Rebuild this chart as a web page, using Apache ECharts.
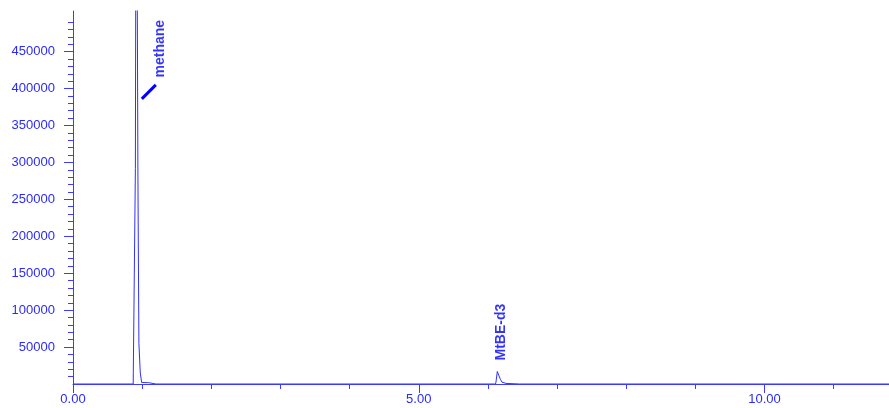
<!DOCTYPE html>
<html>
<head>
<meta charset="utf-8">
<script src="https://cdn.jsdelivr.net/npm/echarts@6/dist/echarts.min.js"></script>
<style>
html,body{margin:0;padding:0;background:#fff;}
#chart{width:889px;height:408px;}
</style>
</head>
<body>
<div id="chart"></div>
<script>
// Chromatogram trace (minutes, detector counts)
const retentionTimes = [0, 0.871, 0.872, 0.898, 0.900, 0.902, 0.915, 0.937, 0.939, 0.950, 0.953, 0.968, 0.973, 0.993, 1.092, 1.099, 1.200,
  6.110, 6.117, 6.136, 6.143, 6.160, 6.182, 6.204, 6.225, 6.262, 6.269,
  6.457, 6.468, 6.478, 11.8];
const signal = [0, 0, 16000, 17000, 16000, 292000, 900000, 900000, 280000, 278000, 55000, 52700, 14900, 2000, 1800, 0, 0,
  0, 3000, 17000, 16500, 11000, 6000, 2500, 1200, 800, 0,
  0, 1200, 0, 0];

// Peak annotations
const peakNames = ['methane', 'MtBE-d3'];
const peakLabelTimes = [1.258, 6.192];
const peakLabelHeights = [454000, 70300];

// Leader line for methane label
const leaderTimes = [0.995, 1.198];
const leaderHeights = [386000, 405000];

// Axis ticks
const xTickLabels = [0, 5, 10];
const xMinorTicks = [0, 1, 2, 3, 4, 5, 6, 7, 8, 9, 10, 11];
const yTickLabels = [50000, 100000, 150000, 200000, 250000, 300000, 350000, 400000, 450000];
const yMinorTicks = [];
for (let v = 10000; v <= 490000; v += 10000) yMinorTicks.push(v);

const X_MAX = 11.8, Y_MAX = 505000;
const axisColor = '#3c3cff';
const labelColor = '#2a2aff';
const font = 'Arial, "Liberation Sans", sans-serif';

const chart = echarts.init(document.getElementById('chart'), null, {renderer: 'canvas'});
chart.setOption({
  animation: false,
  backgroundColor: '#ffffff',
  grid: {left: 73, right: 0, top: 11, bottom: 24, containLabel: false},
  xAxis: [
    {
      type: 'value', position: 'bottom', min: 0, max: X_MAX,
      axisLine: {show: true, onZero: false, lineStyle: {color: axisColor, width: 1}},
      axisTick: {show: true, length: 9, customValues: xTickLabels, lineStyle: {color: axisColor}},
      axisLabel: {show: true, customValues: xTickLabels, margin: 9, color: labelColor, fontFamily: font, fontSize: 13,
        formatter: v => Number(v).toFixed(2)},
      splitLine: {show: false}
    },
    {
      type: 'value', position: 'bottom', min: 0, max: X_MAX,
      axisLine: {show: false, onZero: false},
      axisTick: {show: true, length: 5, customValues: xMinorTicks, lineStyle: {color: axisColor}},
      axisLabel: {show: false},
      splitLine: {show: false}
    }
  ],
  yAxis: [
    {
      type: 'value', position: 'left', min: 0, max: Y_MAX,
      axisLine: {show: true, onZero: false, lineStyle: {color: axisColor, width: 1}},
      axisTick: {show: true, length: 9, customValues: yTickLabels, lineStyle: {color: axisColor}},
      axisLabel: {show: true, customValues: yTickLabels, margin: 18, color: labelColor, fontFamily: font, fontSize: 13,
        formatter: v => String(v)},
      splitLine: {show: false}
    },
    {
      type: 'value', position: 'left', min: 0, max: Y_MAX,
      axisLine: {show: false, onZero: false},
      axisTick: {show: true, length: 5, customValues: yMinorTicks, lineStyle: {color: axisColor}},
      axisLabel: {show: false},
      splitLine: {show: false}
    }
  ],
  series: [
    {
      type: 'line', xAxisIndex: 0, yAxisIndex: 0,
      data: retentionTimes.map((t, i) => [t, signal[i]]),
      showSymbol: false, symbol: 'none', clip: true, sampling: null,
      lineStyle: {color: '#3030ff', width: 1},
      silent: true
    },
    {
      type: 'line', xAxisIndex: 0, yAxisIndex: 0,
      data: leaderTimes.map((t, i) => [t, leaderHeights[i]]),
      showSymbol: false, symbol: 'none',
      lineStyle: {color: '#0000ff', width: 3},
      silent: true
    },
    {
      type: 'scatter', xAxisIndex: 0, yAxisIndex: 0,
      symbolSize: 0, itemStyle: {color: 'rgba(0,0,0,0)'},
      data: peakNames.map((n, i) => ({name: n, value: [peakLabelTimes[i], peakLabelHeights[i]]})),
      label: {show: true, position: 'inside', rotate: 90, formatter: '{b}', color: '#0000ff',
        fontFamily: font, fontSize: 14, fontWeight: 'bold'},
      silent: true
    }
  ]
});
</script>
</body>
</html>
